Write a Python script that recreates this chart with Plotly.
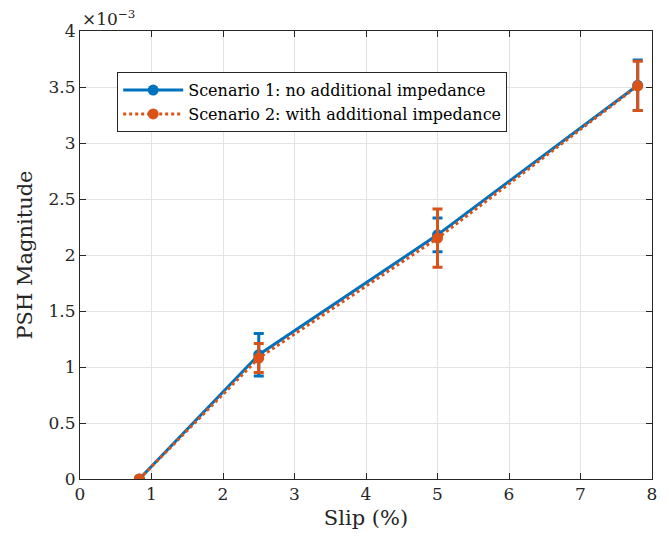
import plotly.graph_objects as go

# Slip operating points (%)
slip = [0.83, 2.5, 5.0, 7.8]

# PSH magnitude (x1e-3) and spread for each scenario
psh_s1 = [0.0, 1.11, 2.18, 3.515]
err_s1 = [0.0, 0.19, 0.15, 0.225]
psh_s2 = [0.0, 1.08, 2.15, 3.51]
err_s2 = [0.0, 0.13, 0.26, 0.22]

names = ["Scenario 1: no additional impedance",
         "Scenario 2: with additional impedance"]

blue = "#0072BD"
orange = "#D95319"
font_family = "DejaVu Serif"

fig = go.Figure()
fig.add_trace(go.Scatter(
    x=slip, y=psh_s1, name=names[0], mode="lines+markers",
    line=dict(color=blue, width=3),
    marker=dict(color=blue, size=11),
    error_y=dict(type="data", array=err_s1, visible=True,
                 color=blue, thickness=3, width=5),
))
fig.add_trace(go.Scatter(
    x=slip, y=psh_s2, name=names[1], mode="lines+markers",
    line=dict(color=orange, width=3, dash="dot"),
    marker=dict(color=orange, size=11),
    error_y=dict(type="data", array=err_s2, visible=True,
                 color=orange, thickness=3, width=5),
))

axis_common = dict(
    showline=True, linecolor="#262626", linewidth=1, mirror="ticks",
    ticks="inside", ticklen=6, tickcolor="#262626",
    showgrid=True, gridcolor="#e3e3e3", gridwidth=1, zeroline=False,
    tickfont=dict(family=font_family, size=17, color="#262626"),
)

fig.update_xaxes(range=[0, 8], dtick=1,
                 title=dict(text="Slip (%)", standoff=6,
                            font=dict(family=font_family, size=21, color="#262626")),
                 **axis_common)
fig.update_yaxes(range=[0, 4], tickvals=[0, 0.5, 1, 1.5, 2, 2.5, 3, 3.5, 4],
                 ticktext=["0", "0.5", "1", "1.5", "2", "2.5", "3", "3.5", "4"],
                 title=dict(text="PSH Magnitude", standoff=10,
                            font=dict(family=font_family, size=21, color="#262626")),
                 **axis_common)

fig.add_annotation(text="×10<sup>−3</sup>", xref="paper", yref="paper",
                   x=0, y=1.0, xanchor="left", yanchor="bottom", showarrow=False,
                   font=dict(family=font_family, size=17, color="#262626"))

fig.update_layout(
    width=669, height=543,
    margin=dict(l=80, r=17, t=31, b=64),
    plot_bgcolor="white", paper_bgcolor="white",
    showlegend=True,
    legend=dict(x=0.065, y=0.908, xanchor="left", yanchor="top",
                bgcolor="white", bordercolor="#262626", borderwidth=1,
                font=dict(family=font_family, size=16, color="#000000"),
                tracegroupgap=0, itemwidth=60),
)

fig.write_html("out.html")
